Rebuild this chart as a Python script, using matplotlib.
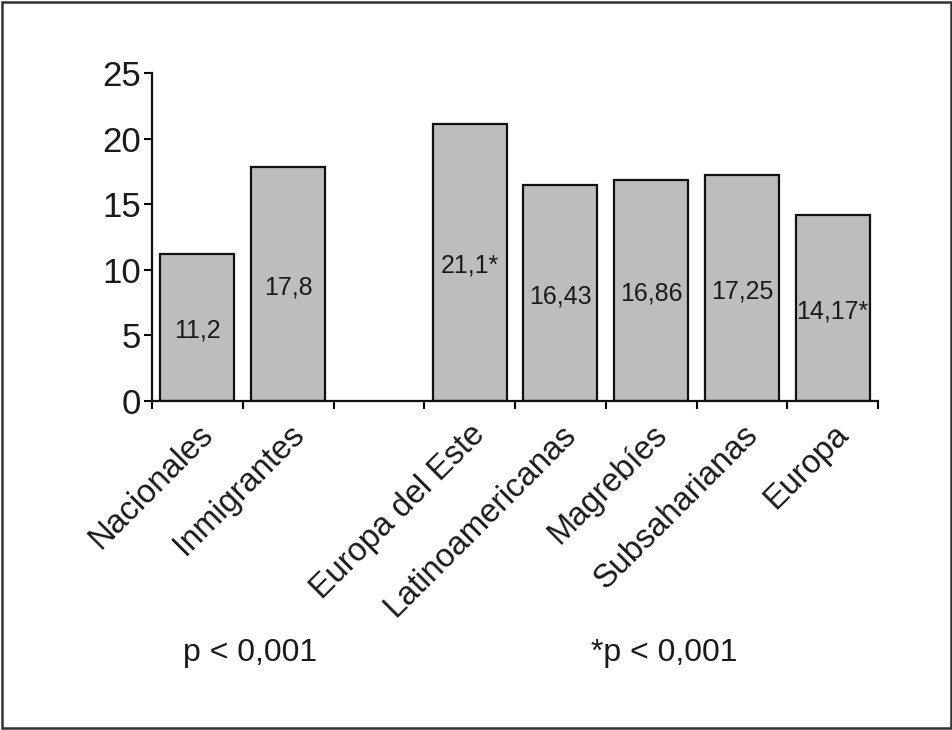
import numpy as np
import matplotlib
matplotlib.use("Agg")
import matplotlib.pyplot as plt
from matplotlib.patches import Rectangle

plt.rcParams['font.family'] = ['Liberation Sans', 'DejaVu Sans']

# datos
grupo1 = ['Nacionales', 'Inmigrantes']
valores1 = [11.2, 17.8]
etiquetas1 = ['11,2', '17,8']

grupo2 = ['Europa del Este', 'Latinoamericanas', 'Magrebíes', 'Subsaharianas', 'Europa']
valores2 = [21.1, 16.43, 16.86, 17.25, 14.17]
etiquetas2 = ['21,1*', '16,43', '16,86', '17,25', '14,17*']

y_ticks = [0, 5, 10, 15, 20, 25]
nota1 = 'p < 0,001'
nota2 = '*p < 0,001'

# posiciones: hueco de una columna entre los dos grupos
pos1 = np.arange(len(grupo1))
pos2 = np.arange(len(grupo2)) + len(grupo1) + 1
posiciones = np.concatenate([pos1, pos2])
categorias = grupo1 + grupo2
valores = valores1 + valores2
etiquetas = etiquetas1 + etiquetas2
n_slots = len(grupo1) + 1 + len(grupo2)

fig = plt.figure(figsize=(9.53, 7.30), dpi=100)
ax = fig.add_axes([0.1595, 0.4507, 0.7618, 0.4493])

ax.bar(posiciones, valores, width=0.815, color='#bdbdbd',
       edgecolor='#111111', linewidth=1.6, zorder=2)

for x, v, t in zip(posiciones, valores, etiquetas):
    ax.text(x, v / 2 - 0.25, t, ha='center', va='center', fontsize=18, color='#1a1a1a')

ax.set_xlim(-0.5, n_slots - 0.5)
ax.set_ylim(0, 25)
ax.set_yticks(y_ticks)
ax.set_yticklabels([str(t) for t in y_ticks], fontsize=25, color='#1a1a1a')

# marcas entre categorias, etiquetas centradas
ax.set_xticks(np.arange(n_slots + 1) - 0.5, minor=True)
ax.set_xticks(posiciones)
ax.set_xticklabels(categorias, rotation=45, ha='right', va='top',
                   rotation_mode='anchor', fontsize=23.5, color='#1a1a1a')
ax.tick_params(axis='x', which='major', length=0, pad=13)
ax.tick_params(axis='x', which='minor', length=6, width=1.5, direction='out')
ax.tick_params(axis='y', length=6, width=1.5, pad=2)

for s in ['top', 'right']:
    ax.spines[s].set_visible(False)
for s in ['left', 'bottom']:
    ax.spines[s].set_linewidth(1.6)
    ax.spines[s].set_color('#111111')

fig.text(250 / 953, 1 - 653 / 730, nota1, ha='center', va='center', fontsize=23, color='#1a1a1a')
fig.text(664 / 953, 1 - 653 / 730, nota2, ha='center', va='center', fontsize=23, color='#1a1a1a')

# marco de la figura
fig.patches.append(Rectangle((0.002, 0.003), 0.996, 0.994, transform=fig.transFigure,
                             fill=False, edgecolor='#333333', linewidth=1.8))

fig.savefig('out.png', dpi=100)
